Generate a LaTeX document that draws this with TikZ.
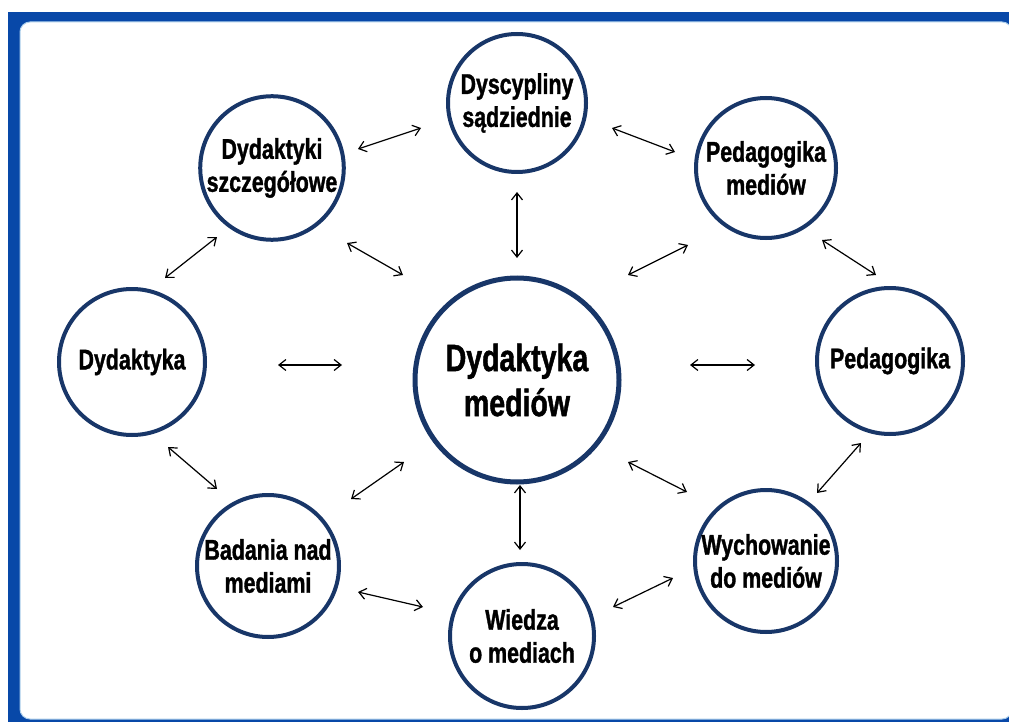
\documentclass[tikz,border=0pt]{standalone}
\usepackage{fontspec}
\setmainfont{Liberation Sans}[FakeStretch=0.75, FakeBold=1.2]
\usetikzlibrary{arrows.meta}
\definecolor{frameblue}{RGB}{8,72,168}
\definecolor{edgeblue}{RGB}{170,205,235}
\definecolor{navy}{RGB}{24,54,104}
\tikzset{
  topic/.style={circle, draw=navy, line width=4pt, fill=white, inner sep=0pt,
    align=center, text=black, font=\bfseries\fontsize{28.5}{33}\selectfont},
  hub/.style={topic, line width=5pt, font=\bfseries\fontsize{38}{45}\selectfont},
  link/.style={line width=1.2pt, {Straight Barb[length=7pt,width=11pt]}-{Straight Barb[length=7pt,width=11pt]}}
}
\begin{document}
\begin{tikzpicture}[x=1pt,y=-1pt]
\useasboundingbox (0,0) rectangle (1009,722);
\fill[white] (0,0) rectangle (1009,722);
\fill[frameblue] (8,12) rectangle (1009,722);
\draw[edgeblue, line width=1pt, fill=white, rounded corners=10pt] (20,22) rectangle (1012,719);

\node[hub, minimum size=204pt] (cen) at (517,380) {Dydaktyka\\mediów};
\node[topic, minimum size=138pt] (dys) at (517,103) {Dyscypliny\\sądziednie};
\node[topic, minimum size=138pt] (dsz) at (272,168) {Dydaktyki\\szczegółowe};
\node[topic, minimum size=140pt] (pme) at (766,168) {Pedagogika\\mediów};
\node[topic, minimum size=146pt] (dyd) at (132,362) {Dydaktyka};
\node[topic, minimum size=146pt] (ped) at (890,361) {Pedagogika};
\node[topic, minimum size=142pt] (bad) at (268,566) {Badania nad\\mediami};
\node[topic, minimum size=144pt] (wie) at (522,636) {Wiedza\\o mediach};
\node[topic, minimum size=142pt] (wyc) at (766,561) {Wychowanie\\do mediów};

\coordinate (a1s) at (358,149);  \coordinate (a1e) at (421,128);
\coordinate (a2s) at (612,128);  \coordinate (a2e) at (675,152);
\coordinate (a3s) at (517,192);  \coordinate (a3e) at (517,258);
\coordinate (a4s) at (347,243);  \coordinate (a4e) at (403,275);
\coordinate (a5s) at (628,275);  \coordinate (a5e) at (688,245);
\coordinate (a6s) at (822,240);  \coordinate (a6e) at (876,275);
\coordinate (a7s) at (217,237);  \coordinate (a7e) at (165,278);
\coordinate (a8s) at (278,365);  \coordinate (a8e) at (342,365);
\coordinate (a9s) at (690,365);  \coordinate (a9e) at (755,365);
\coordinate (a10s) at (168,447); \coordinate (a10e) at (217,489);
\coordinate (a11s) at (404,462); \coordinate (a11e) at (351,499);
\coordinate (a12s) at (520,485); \coordinate (a12e) at (520,550);
\coordinate (a13s) at (628,462); \coordinate (a13e) at (687,492);
\coordinate (a14s) at (861,443); \coordinate (a14e) at (817,493);
\coordinate (a15s) at (358,592); \coordinate (a15e) at (423,607);
\coordinate (a16s) at (613,607); \coordinate (a16e) at (673,578);

\foreach \i in {1,...,16} {\draw[link] (a\i s) -- (a\i e);}
\end{tikzpicture}
\end{document}
